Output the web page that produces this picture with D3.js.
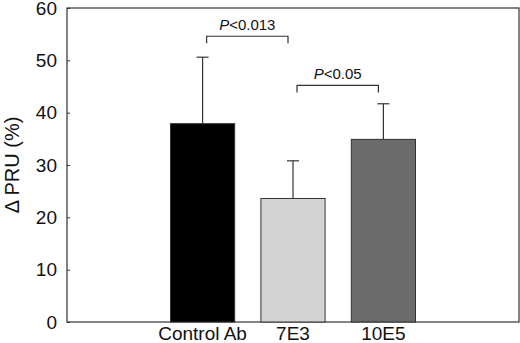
<!DOCTYPE html>
<html>
<head>
<meta charset="utf-8">
<script src="https://cdn.jsdelivr.net/npm/d3@7"></script>
<style>
  body { margin: 0; background: #fff; }
  svg text { font-family: "Liberation Sans", Arial, sans-serif; }
</style>
</head>
<body>
<div class="canvas"></div>
<script>
// chart values
const categories = ['Control Ab', '7E3', '10E5']
const means = [37.9, 23.6, 34.9]
const errors = [12.7, 7.2, 6.8]
const barColours = ['#000000', '#d3d3d3', '#6b6b6b']
const yTicks = [0, 10, 20, 30, 40, 50, 60]

// significance brackets: pair of bars, height of bar line, label
const bracketPairs = [['Control Ab', '7E3'], ['7E3', '10E5']]
const bracketLevels = [54.6, 45.2]
const bracketLabels = ['0.013', '0.05']

const dims = { width: 520, height: 343 }
const frame = { left: 67, right: 519, top: 8, bottom: 322 }

const svg = d3.select('.canvas')
  .append('svg')
  .attr('width', dims.width)
  .attr('height', dims.height)

const y = d3.scaleLinear()
  .domain([0, 60])
  .range([frame.bottom, frame.top])

// bars take the middle three of five slots
const step = (frame.right - frame.left) / 5
const x = d3.scaleBand()
  .domain(categories)
  .range([frame.left + step, frame.right - step])
  .paddingInner(0.29)
  .paddingOuter(0.145)

const cx = d => x(d) + x.bandwidth() / 2

// frame
svg.append('rect')
  .attr('x', frame.left)
  .attr('y', frame.top)
  .attr('width', frame.right - frame.left)
  .attr('height', frame.bottom - frame.top)
  .attr('fill', 'none')
  .attr('stroke', '#333')
  .attr('stroke-width', 1.2)

// y axis, ticks pointing inward
const yAxis = d3.axisLeft(y)
  .tickValues(yTicks)
  .tickSizeInner(-3)
  .tickSizeOuter(0)
  .tickPadding(10)

const yg = svg.append('g')
  .attr('transform', `translate(${frame.left}, 0)`)
  .call(yAxis)

yg.select('.domain').remove()
yg.selectAll('line').attr('stroke', '#333')
yg.selectAll('text')
  .attr('font-size', 19)
  .attr('fill', '#111')
  .attr('font-family', '"Liberation Sans", Arial, sans-serif')

svg.append('text')
  .attr('transform', `translate(19, ${(frame.top + frame.bottom) / 2}) rotate(-90)`)
  .attr('text-anchor', 'middle')
  .attr('font-size', 20)
  .attr('fill', '#111')
  .text('Δ PRU (%)')

// error bars (upper only), drawn under the bars
const errG = svg.append('g')
categories.forEach((c, i) => {
  errG.append('line')
    .attr('x1', cx(c)).attr('x2', cx(c))
    .attr('y1', y(means[i])).attr('y2', y(means[i] + errors[i]))
    .attr('stroke', '#333')
    .attr('stroke-width', 1.2)
  errG.append('line')
    .attr('x1', cx(c) - 6).attr('x2', cx(c) + 6)
    .attr('y1', y(means[i] + errors[i])).attr('y2', y(means[i] + errors[i]))
    .attr('stroke', '#333')
    .attr('stroke-width', 1.2)
})

// bars
svg.append('g').selectAll('rect')
  .data(categories)
  .enter()
  .append('rect')
  .attr('x', d => x(d))
  .attr('y', (d, i) => y(means[i]))
  .attr('width', x.bandwidth())
  .attr('height', (d, i) => y(0) - y(means[i]))
  .attr('fill', (d, i) => barColours[i])
  .attr('stroke', '#333')
  .attr('stroke-width', 1)

// category labels
svg.append('g').selectAll('text')
  .data(categories)
  .enter()
  .append('text')
  .attr('x', d => cx(d))
  .attr('y', 340)
  .attr('text-anchor', 'middle')
  .attr('font-size', 19)
  .attr('fill', '#111')
  .text(d => d)

// significance brackets
const brG = svg.append('g')
bracketPairs.forEach((pair, i) => {
  const x1 = cx(pair[0]) + 4
  const x2 = cx(pair[1]) - 5
  const yl = y(bracketLevels[i])
  brG.append('path')
    .attr('d', `M${x1},${yl + 7} V${yl} H${x2} V${yl + 7}`)
    .attr('fill', 'none')
    .attr('stroke', '#333')
    .attr('stroke-width', 1.2)

  const t = brG.append('text')
    .attr('x', (x1 + x2) / 2)
    .attr('y', yl - 6)
    .attr('text-anchor', 'middle')
    .attr('font-size', 15)
    .attr('fill', '#111')
  t.append('tspan').attr('font-style', 'italic').text('P')
  t.append('tspan').text('<' + bracketLabels[i])
})
</script>
</body>
</html>
